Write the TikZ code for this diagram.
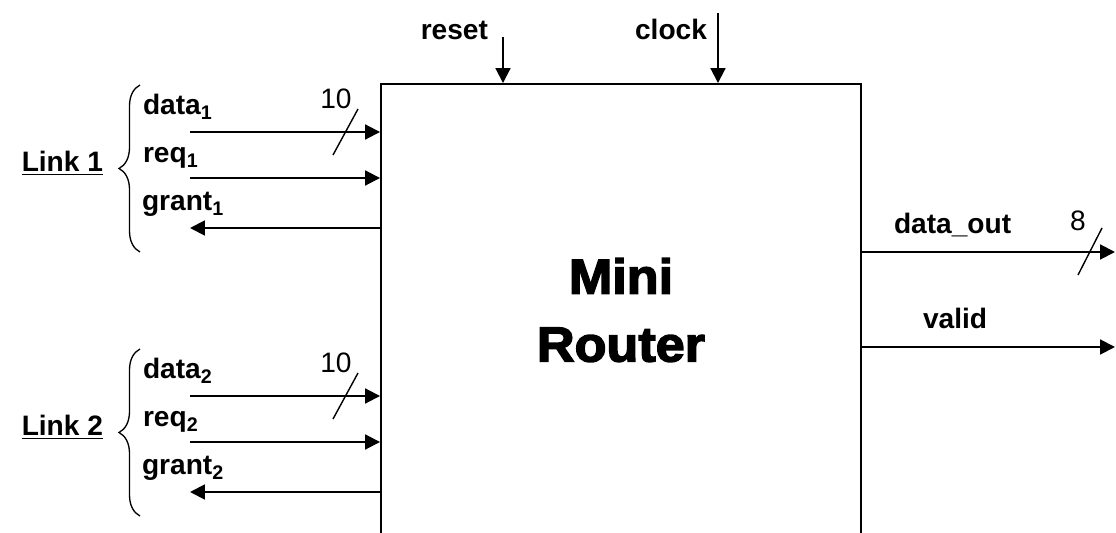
\documentclass[tikz,border=0pt]{standalone}
\usepackage{fontspec}
\setmainfont{Liberation Sans}
\newfontfamily\titlefont{Liberation Sans}[FakeStretch=1.06, BoldFeatures={FakeBold=3}]
\usetikzlibrary{arrows.meta, positioning, decorations.pathreplacing}

\begin{document}
\begin{tikzpicture}[x=0.02cm, y=-0.02cm, line width=1.15pt,
  sig/.style={font=\bfseries\fontsize{16}{19}\selectfont, inner sep=0pt},
  buswidth/.style={font=\fontsize{16}{19}\selectfont, inner sep=0pt},
  slash/.style={line width=0.8pt},
  pin/.style={-{Triangle[length=8.5pt, width=8.5pt]}}]

  \useasboundingbox (0,0) rectangle (1116,533);
  \clip (0,0) rectangle (1116,533);

  % Router block, its bottom edge runs off the page
  \node[draw, minimum width=9.6cm, minimum height=9.04cm, align=center,
        font=\titlefont\bfseries\fontsize{28}{38.6}\selectfont] (router) at (621,310) {Mini\\Router};

  % Reset and clock from the top
  \node[sig, anchor=base east] (reset) at (489,40) {reset};
  \node[sig, anchor=base east] (clock) at (708,40) {clock};
  \coordinate (rst) at (503,37);
  \coordinate (clk) at (718,13);
  \draw[pin] (rst) -- (rst |- router.north);
  \draw[pin] (clk) -- (clk |- router.north);

  % The two input links, link 2 sits 264 lower
  \foreach \i/\dy in {1/0, 2/264} {
    \node[sig, anchor=base east] (link\i) at (104,172+\dy) {\underline{Link \i}};
    \draw[line width=0.75pt, decorate, decoration={brace, amplitude=0.42cm}]
      (140,252+\dy) -- (140,85+\dy);
    \node[sig, anchor=base west] (data\i) at (142,115+\dy) {data\textsubscript{\i}};
    \node[sig, anchor=base west] (req\i) at (142,163+\dy) {req\textsubscript{\i}};
    \node[sig, anchor=base west] (grant\i) at (141,211+\dy) {grant\textsubscript{\i}};
    \coordinate (din\i) at (190,132+\dy);
    \coordinate (rin\i) at (190,178+\dy);
    \coordinate (gout\i) at (190,228+\dy);
    \draw[pin] (din\i) -- (din\i -| router.west);
    \draw[pin] (rin\i) -- (rin\i -| router.west);
    \draw[pin] (gout\i -| router.west) -- (gout\i);
    % bus width mark
    \draw[slash] (333,155+\dy) -- (358,109+\dy);
    \node[buswidth] (dw\i) at (336,99+\dy) {10};
  }

  % Outputs
  \node[sig, anchor=base west] (dout) at (893,234) {data\_out};
  \node[sig, anchor=base west] (valid) at (922,329) {valid};
  \coordinate (doutend) at (1115,252);
  \coordinate (validend) at (1115,347);
  \draw[pin] (doutend -| router.east) -- (doutend);
  \draw[pin] (validend -| router.east) -- (validend);
  \draw[slash] (1078,275) -- (1102,228);
  \node[buswidth] (ow) at (1078,221) {8};

\end{tikzpicture}
\end{document}
